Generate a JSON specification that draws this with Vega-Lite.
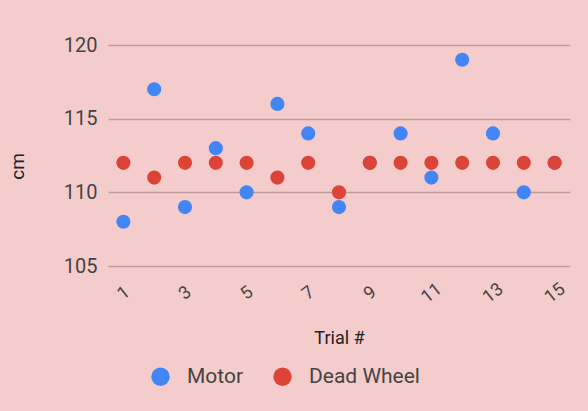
{
  "$schema": "https://vega.github.io/schema/vega-lite/v6.json",
  "width": 462,
  "height": 221,
  "autosize": {"type": "none"},
  "padding": {"left": 108, "top": 45, "right": 18, "bottom": 145},
  "background": "#f4cccc",
  "config": {
    "font": "Roboto",
    "view": {"stroke": null},
    "axis": {"domain": false, "ticks": false, "labelFont": "Roboto", "titleFont": "Roboto"}
  },
  "data": {
    "values": [
      {"trial": 1, "series": "Motor", "cm": 108},
      {"trial": 2, "series": "Motor", "cm": 117},
      {"trial": 3, "series": "Motor", "cm": 109},
      {"trial": 4, "series": "Motor", "cm": 113},
      {"trial": 5, "series": "Motor", "cm": 110},
      {"trial": 6, "series": "Motor", "cm": 116},
      {"trial": 7, "series": "Motor", "cm": 114},
      {"trial": 8, "series": "Motor", "cm": 109},
      {"trial": 9, "series": "Motor", "cm": 112},
      {"trial": 10, "series": "Motor", "cm": 114},
      {"trial": 11, "series": "Motor", "cm": 111},
      {"trial": 12, "series": "Motor", "cm": 119},
      {"trial": 13, "series": "Motor", "cm": 114},
      {"trial": 14, "series": "Motor", "cm": 110},
      {"trial": 15, "series": "Motor", "cm": 112},
      {"trial": 1, "series": "Dead Wheel", "cm": 112},
      {"trial": 2, "series": "Dead Wheel", "cm": 111},
      {"trial": 3, "series": "Dead Wheel", "cm": 112},
      {"trial": 4, "series": "Dead Wheel", "cm": 112},
      {"trial": 5, "series": "Dead Wheel", "cm": 112},
      {"trial": 6, "series": "Dead Wheel", "cm": 111},
      {"trial": 7, "series": "Dead Wheel", "cm": 112},
      {"trial": 8, "series": "Dead Wheel", "cm": 110},
      {"trial": 9, "series": "Dead Wheel", "cm": 112},
      {"trial": 10, "series": "Dead Wheel", "cm": 112},
      {"trial": 11, "series": "Dead Wheel", "cm": 112},
      {"trial": 12, "series": "Dead Wheel", "cm": 112},
      {"trial": 13, "series": "Dead Wheel", "cm": 112},
      {"trial": 14, "series": "Dead Wheel", "cm": 112},
      {"trial": 15, "series": "Dead Wheel", "cm": 112}
    ]
  },
  "mark": {"type": "point", "shape": "circle", "filled": true, "opacity": 1, "size": 200},
  "encoding": {
    "x": {
      "field": "trial", "type": "quantitative", "title": "Trial #",
      "scale": {"domain": [0.5, 15.5], "nice": false, "zero": false},
      "axis": {
        "values": [1, 3, 5, 7, 9, 11, 13, 15],
        "grid": false, "labelAngle": -38, "labelAlign": "center", "labelBaseline": "middle",
        "labelPadding": 27, "labelFontSize": 18, "labelColor": "#444444",
        "titleFontSize": 18, "titleFontWeight": "normal", "titleColor": "#222222", "titlePadding": 23
      }
    },
    "y": {
      "field": "cm", "type": "quantitative", "title": "cm",
      "scale": {"domain": [105, 120], "nice": false, "zero": false},
      "axis": {
        "values": [105, 110, 115, 120],
        "gridColor": "#bf9a9a", "gridWidth": 1.3,
        "labelPadding": 11, "labelFontSize": 20, "labelColor": "#444444",
        "titleFontSize": 19, "titleFontWeight": "normal", "titleColor": "#222222", "titlePadding": 36,
        "titleY": 121
      }
    },
    "color": {
      "field": "series", "type": "nominal",
      "scale": {"domain": ["Motor", "Dead Wheel"], "range": ["#4285f4", "#db4437"]},
      "legend": {
        "title": null, "orient": "none", "direction": "horizontal",
        "legendX": 42, "legendY": 321, "padding": 0,
        "symbolType": "circle", "symbolSize": 340, "symbolOpacity": 1, "symbolStrokeWidth": 0,
        "labelFontSize": 21, "labelColor": "#444444", "labelFont": "Roboto", "labelOffset": 16,
        "columnPadding": 28
      }
    },
    "order": {"field": "series", "sort": "descending"}
  }
}
